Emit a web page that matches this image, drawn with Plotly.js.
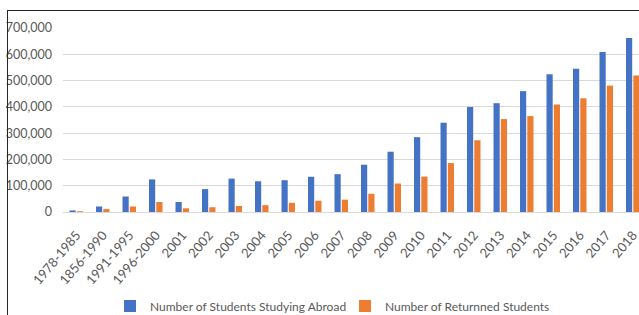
<!DOCTYPE html>
<html>
<head>
<meta charset="utf-8">
<script src="https://cdn.plot.ly/plotly-3.0.1.min.js"></script>
<style>
  html, body { margin: 0; padding: 0; overflow: hidden; background: #fff; width: 639px; height: 315px; }
  #chart { position: absolute; left: 0; top: 0; width: 660px; height: 315px; }
  #frame { position: absolute; left: 7px; top: 10px; width: 700px; height: 400px;
           border-left: 1.5px solid #262626; border-top: 1.5px solid #262626; pointer-events: none; }
</style>
</head>
<body>
<div id="chart"></div>
<div id="frame"></div>
<script>
const categories = ["1978-1985", "1856-1990", "1991-1995", "1996-2000", "2001", "2002", "2003", "2004",
  "2005", "2006", "2007", "2008", "2009", "2010", "2011", "2012", "2013", "2014", "2015", "2016", "2017", "2018"];
const studyingAbroad = [6000, 21000, 59000, 124000, 38000, 87000, 127000, 117000, 121000, 134000, 144000,
  180000, 229300, 284700, 339700, 399600, 413900, 459800, 523700, 544500, 608400, 662100];
const returned = [3000, 11000, 21000, 38000, 14000, 18000, 23000, 26000, 35000, 43000, 47000,
  69300, 108300, 134800, 186200, 272900, 353500, 364800, 409100, 432500, 480900, 519400];
const yTickVals = [0, 100000, 200000, 300000, 400000, 500000, 600000, 700000];
const yTickText = ["0", "100,000", "200,000", "300,000", "400,000", "500,000", "600,000", "700,000"];
const seriesNames = ["Number of Students Studying Abroad", "Number of Returnned Students"];

const font = "Lato, 'Open Sans', sans-serif";
const traces = [
  { type: "bar", x: categories, y: studyingAbroad, name: seriesNames[0],
    marker: { color: "#4472C4", line: { width: 0 } } },
  { type: "bar", x: categories, y: returned, name: seriesNames[1],
    marker: { color: "#ED7D31", line: { width: 0 } } }
];
const layout = {
  width: 660, height: 315,
  margin: { l: 63, r: 14, t: 28, b: 103, autoexpand: false },
  paper_bgcolor: "rgba(0,0,0,0)", plot_bgcolor: "rgba(0,0,0,0)",
  font: { family: font, size: 12, color: "#595959" },
  barmode: "group", bargap: 0.45, bargroupgap: 0.15,
  showlegend: true,
  legend: { orientation: "h", x: (110 - 63) / 583, xanchor: "left", y: (212 - 306) / 184, yanchor: "middle",
            font: { family: font, size: 12, color: "#595959" }, itemclick: false, traceorder: "normal",
            entrywidth: 190, itemwidth: 30 },
  xaxis: { type: "category", tickangle: -50, tickfont: { family: font, size: 13, color: "#595959" },
           showgrid: false, zeroline: false, showline: false, ticks: "", ticklabelstandoff: 12,
           automargin: false, fixedrange: true },
  yaxis: { range: [0, 700000], tickvals: yTickVals, ticktext: yTickText,
           tickfont: { family: font, size: 12.5, color: "#595959" },
           showgrid: true, gridcolor: "#D9D9D9", gridwidth: 1, zeroline: true, zerolinecolor: "#D9D9D9",
           zerolinewidth: 1, showline: false, ticks: "", ticklabelstandoff: 10, automargin: false, fixedrange: true }
};
Plotly.newPlot("chart", traces, layout, { displayModeBar: false, staticPlot: true });
</script>
</body>
</html>
